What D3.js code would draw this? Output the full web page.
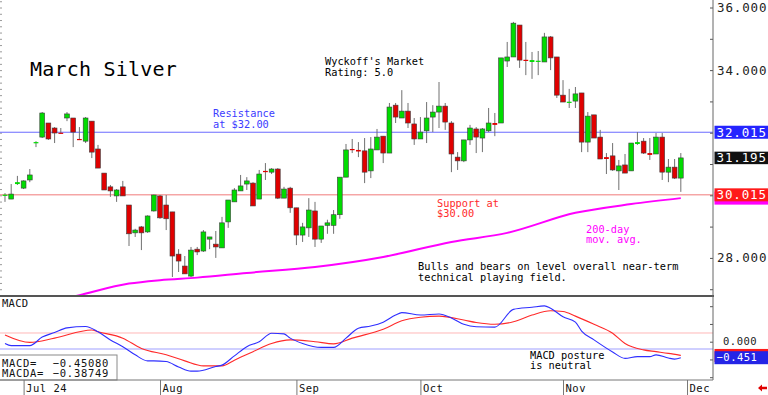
<!DOCTYPE html>
<html>
<head>
<meta charset="utf-8">
<script src="https://cdn.jsdelivr.net/npm/d3@7"></script>
<style>
  body { margin: 0; background: #fff; }
  svg  { display: block; font-family: "DejaVu Sans Mono", monospace; }
</style>
</head>
<body>
<svg id="chart" width="768" height="395"></svg>
<script>
// ── Data: March Silver daily bars (late Jun → late Nov 2024) ────────────────
const opens = [30.00,29.88,30.36,30.23,30.49,31.67,31.86,32.31,32.15,32.00,
  32.47,32.47,31.80,31.73,32.37,31.48,30.71,30.27,29.98,30.27,
  29.69,28.80,28.99,28.83,29.50,29.98,29.69,29.47,28.12,27.74,
  27.42,28.28,28.22,28.60,28.44,28.32,29.15,29.79,30.14,30.36,
  30.39,29.88,30.78,30.74,30.84,29.91,30.23,29.60,28.73,28.96,
  29.50,28.60,29.04,29.04,29.38,30.58,31.48,31.45,31.42,30.78,
  31.45,31.89,31.35,32.88,32.47,32.69,32.28,31.80,32.06,32.50,
  32.66,32.85,32.31,31.22,31.10,31.77,32.12,31.83,32.06,32.31,
  32.31,34.29,34.42,35.44,34.33,34.26,34.28,34.26,35.06,34.42,
  33.20,32.97,33.01,33.27,31.70,32.57,31.86,31.22,31.26,30.78,
  30.97,30.78,31.64,31.73,31.35,31.32,31.86,30.74,30.90,30.55];
const highs = [30.07,30.36,30.62,30.48,30.84,31.73,32.66,32.31,32.18,32.15,
  32.66,32.47,32.18,32.50,32.37,31.61,30.71,30.33,30.20,30.46,
  29.69,28.93,29.02,29.36,30.02,30.01,30.01,29.47,28.28,28.06,
  28.35,28.35,28.89,28.67,28.86,29.31,29.85,30.23,30.65,30.58,
  30.42,30.81,31.03,30.87,30.87,30.27,30.27,29.60,29.12,29.91,
  29.79,29.02,29.22,29.53,30.58,31.64,31.80,31.70,31.83,31.86,
  32.12,31.89,32.95,32.95,33.36,32.95,32.47,32.50,32.98,32.88,
  33.62,32.95,32.37,31.38,31.77,32.25,32.18,32.15,32.79,32.63,
  34.39,34.90,35.54,35.44,34.90,34.58,34.61,35.19,35.09,34.42,
  33.68,33.40,33.46,33.27,32.66,32.57,32.09,31.35,31.67,31.13,
  31.32,31.67,32.02,31.83,31.83,31.99,31.99,31.16,31.16,31.35];
const lows = [29.79,29.88,30.33,30.20,30.42,31.54,31.83,31.77,31.67,31.98,
  32.37,31.54,31.77,31.67,31.19,30.87,30.17,29.95,29.79,29.98,
  28.38,28.67,28.25,28.80,29.48,29.25,28.89,27.39,27.55,27.49,
  27.39,28.09,28.19,28.28,28.00,28.32,28.96,29.79,30.14,30.17,
  29.66,29.88,30.49,30.68,29.88,29.91,29.44,28.41,28.51,28.67,
  28.35,28.48,28.77,28.77,29.25,30.58,31.35,31.22,30.39,30.55,
  31.45,31.03,31.35,32.31,32.47,32.15,31.61,31.80,31.67,32.02,
  32.15,32.09,30.74,30.81,31.06,31.61,31.35,31.38,32.02,31.89,
  32.31,34.10,34.42,34.07,33.84,33.72,33.84,34.26,34.00,33.11,
  32.98,32.79,32.79,31.38,31.38,31.83,31.16,30.68,30.78,30.17,
  30.71,30.78,31.61,31.32,31.13,31.32,30.49,30.42,30.52,30.11];
const closes = [30.02,30.04,30.42,30.46,30.65,31.70,32.63,31.80,31.99,31.99,
  32.60,32.02,31.78,32.47,31.38,30.87,30.17,30.14,30.17,29.98,
  28.77,28.89,28.80,29.34,30.01,29.28,29.25,28.06,27.90,27.49,
  28.25,28.19,28.83,28.67,28.35,29.12,29.85,30.17,30.30,30.46,
  29.66,30.68,30.74,30.84,29.91,30.20,29.60,28.73,28.99,29.53,
  28.60,29.02,29.12,29.38,30.58,31.45,31.45,31.40,30.74,31.48,
  31.86,31.35,32.82,32.50,32.69,32.31,31.80,32.02,32.47,32.66,
  32.85,32.34,31.32,31.10,31.77,32.15,31.86,32.12,32.31,32.25,
  34.39,34.42,35.50,34.32,34.31,34.32,34.30,35.06,34.39,33.20,
  32.98,32.99,33.24,31.70,32.53,31.83,31.16,31.16,30.81,30.94,
  30.71,31.67,31.70,31.35,31.29,31.86,30.74,30.90,30.55,31.195];

// 200-day moving average (bar index, value)
const maIdx = [8, 12, 20, 25, 31, 39, 50, 61, 72, 81, 92, 101, 109];
const maVal = [26.62, 26.81, 27.18, 27.29, 27.37, 27.52, 27.71, 28.03, 28.51, 28.80, 29.44, 29.72, 29.91];

// MACD (blue) and its average MACDA (red)
const macdIdx = [0,1,4,6,8,10,13,15,17,19,21,23,24,26,28,30,31,34,35,37,39,41,43,45,46,48,51,53,55,57,59,61,63,64,67,70,72,74,76,79,82,85,87,88,90,92,93,95,98,100,102,104,105,107,108,109];
const macdVal = [-0.05,-0.11,-0.11,0.13,0.26,0.39,0.43,0.28,0.05,-0.14,-0.37,-0.54,-0.54,-0.56,-0.71,-0.83,-0.83,-0.70,-0.66,-0.40,-0.14,0.00,0.24,0.22,0.10,-0.05,-0.16,-0.16,0.10,0.38,0.44,0.55,0.75,0.82,0.75,0.78,0.67,0.49,0.42,0.41,0.91,0.97,1.01,0.94,0.70,0.55,0.30,0.05,-0.29,-0.47,-0.42,-0.42,-0.37,-0.46,-0.49,-0.4508];
const sigIdx = [0,4,8,14,15,19,22,26,29,32,35,37,40,43,46,50,53,56,61,64,67,70,74,76,79,82,85,88,90,92,95,98,100,103,105,107,109];
const sigVal = [0.19,-0.02,0.10,0.33,0.28,0.10,-0.19,-0.37,-0.54,-0.68,-0.68,-0.52,-0.28,-0.05,0.05,0.00,-0.06,0.10,0.35,0.59,0.69,0.72,0.61,0.54,0.49,0.56,0.75,0.87,0.85,0.72,0.49,0.24,-0.05,-0.23,-0.28,-0.33,-0.3875];
const macdBands = [0.245, -0.205];
const macdNow = -0.45080, macdaNow = -0.38749;

// Axes
const monthIdx = [3, 25, 47, 67, 90, 110];
const monthLbl = ["Jul 24", "Aug", "Sep", "Oct", "Nov", "Dec"];
const priceLbl = [28, 30, 32, 34, 36];
const priceTick = [27, 28, 29, 30, 31, 32, 33, 34, 35, 36];
const macdTick = [-1, -0.5, 0, 0.5, 1];
const resistance = 32.015, support = 30.015;

// ── Layout ──────────────────────────────────────────────────────────────────
const VW = 768, VH = 395;
const PX = 713;                 // plot right edge / price axis
const MAIN_B = 296;             // bottom of price panel
const MACD_T = 297, MACD_B = 380;

const svg = d3.select("#chart").attr("viewBox", `0 0 ${VW} ${VH}`);

const x  = d3.scaleLinear().domain([-0.806, 114.19]).range([0, PX]);
const y  = d3.scaleLinear().domain([26.783, 36.24]).range([MAIN_B, 0]);
const ym = d3.scaleLinear().domain([-1.079, 1.259]).range([MACD_B, MACD_T]);

const defs = svg.append("defs");
defs.append("clipPath").attr("id", "clipMain")
  .append("rect").attr("width", PX).attr("height", MAIN_B);

function label(g, px, py, txt, size, color, ls) {
  return g.append("text").attr("x", px).attr("y", py)
    .attr("font-size", size).attr("fill", color || "#000")
    .attr("letter-spacing", ls || 0).text(txt);
}

// ── Price panel ─────────────────────────────────────────────────────────────
const main = svg.append("g");

// left edge minor ticks
main.append("g").call(d3.axisRight(y).ticks(45).tickSize(2).tickFormat(""))
  .call(g => g.select(".domain").remove())
  .selectAll("line").attr("stroke", "#9a9a9a");

main.append("line").attr("x1", 0).attr("x2", PX)
  .attr("y1", y(resistance)).attr("y2", y(resistance))
  .attr("stroke", "#6a6aff").attr("stroke-width", 1);
main.append("line").attr("x1", 0).attr("x2", PX)
  .attr("y1", y(support)).attr("y2", y(support))
  .attr("stroke", "#f07a7a").attr("stroke-width", 1);

// 200-day MA
main.append("path")
  .datum(maIdx.map((d, i) => [d, maVal[i]]))
  .attr("clip-path", "url(#clipMain)")
  .attr("fill", "none").attr("stroke", "#ff00ff").attr("stroke-width", 2)
  .attr("d", d3.line().curve(d3.curveMonotoneX).x(d => x(d[0])).y(d => y(d[1])));

// candles
const bars = opens.map((o, i) => ({ i, o, h: highs[i], l: lows[i], c: closes[i] }));
const cg = main.append("g");
cg.selectAll("line.wick").data(bars).join("line").attr("class", "wick")
  .attr("x1", d => x(d.i)).attr("x2", d => x(d.i))
  .attr("y1", d => y(d.h)).attr("y2", d => y(d.l))
  .attr("stroke", "#707070").attr("stroke-width", 1);
cg.selectAll("rect").data(bars).join("rect")
  .attr("x", d => x(d.i) - 2.4).attr("width", 4.8)
  .attr("y", d => y(Math.max(d.o, d.c)))
  .attr("height", d => Math.max(1.2, Math.abs(y(d.o) - y(d.c))))
  .attr("fill", d => d.c >= d.o ? "#00dc00" : "#e00000")
  .attr("stroke", d => Math.abs(y(d.o) - y(d.c)) > 2 ? "#3c3c3c" : "none")
  .attr("stroke-width", 0.6);

// annotations
label(main, 30, 76, "March Silver", 20, "#000", 0.2);
label(main, 325, 65, "Wyckoff's Market", 10.3);
label(main, 325, 75.5, "Rating: 5.0", 10.3);
label(main, 213, 117, "Resistance", 10.3, "#3c3cff");
label(main, 213, 127.5, "at $32.00", 10.3, "#3c3cff");
label(main, 437, 206.5, "Support at", 10.3, "#ff2a2a");
label(main, 437, 217, "$30.00", 10.3, "#ff2a2a");
label(main, 586, 232.5, "200-day", 10.3, "#ff00ff");
label(main, 586, 243, "mov. avg.", 10.3, "#ff00ff");
label(main, 418, 270, "Bulls and bears on level overall near-term", 10.3);
label(main, 418, 280.5, "technical playing field.", 10.3);

// price axis
svg.append("g").attr("transform", `translate(${PX},0)`)
  .call(d3.axisLeft(y).tickValues(priceTick).tickSize(3).tickSizeOuter(0).tickFormat(""))
  .call(g => g.select(".domain").remove())
  .selectAll("line").attr("stroke", "#555");
svg.append("g").attr("transform", `translate(${PX},0)`)
  .call(d3.axisRight(y).tickValues(priceLbl).tickSize(0).tickPadding(4).tickFormat(d3.format(".3f")))
  .call(g => g.select(".domain").remove())
  .selectAll("text").attr("font-family", "DejaVu Sans Mono").attr("font-size", 12.5)
  .attr("letter-spacing", 0.85).attr("fill", "#222");

function valueBox(v, scale, fill, txt, h, size, ls) {
  const cy = scale(v);
  svg.append("rect").attr("x", PX + 1.5).attr("y", cy - h / 2)
    .attr("width", VW - PX - 1.5).attr("height", h).attr("fill", fill);
  if (txt) label(svg, PX + 3.5, cy + size * 0.36, txt, size, "#fff", ls);
}
valueBox(maVal[maVal.length - 1], y, "#ff00ff", null, 13, 12.5);
valueBox(support, y, "#ff1a1a", d3.format(".3f")(support), 13, 12.5, 0.85);
valueBox(closes[closes.length - 1], y, "#111", d3.format(".3f")(closes[closes.length - 1]), 12.5, 12.5, 0.85);
valueBox(resistance, y, "#2424ff", d3.format(".3f")(resistance), 13, 12.5, 0.85);

// ── MACD panel ──────────────────────────────────────────────────────────────
const mg = svg.append("g");
mg.append("line").attr("x1", 0).attr("x2", PX)
  .attr("y1", ym(macdBands[0])).attr("y2", ym(macdBands[0]))
  .attr("stroke", "#ffb8b8").attr("stroke-width", 1);
mg.append("line").attr("x1", 0).attr("x2", PX)
  .attr("y1", ym(macdBands[1])).attr("y2", ym(macdBands[1]))
  .attr("stroke", "#cfcfff").attr("stroke-width", 2);

const mline = d3.line().curve(d3.curveMonotoneX).x(d => x(d[0])).y(d => ym(d[1]));
mg.append("path").datum(sigIdx.map((d, i) => [d, sigVal[i]]))
  .attr("fill", "none").attr("stroke", "#ff2a2a").attr("stroke-width", 1.1).attr("d", mline);
mg.append("path").datum(macdIdx.map((d, i) => [d, macdVal[i]]))
  .attr("fill", "none").attr("stroke", "#2f2fff").attr("stroke-width", 1.1).attr("d", mline);

label(mg, 2, 307, "MACD", 10.5, "#111", 0.3);
label(mg, 530, 358.5, "MACD posture", 10.3);
label(mg, 530, 369, "is neutral", 10.3);

// readout box
mg.append("rect").attr("x", -1).attr("y", 355).attr("width", 118).attr("height", MACD_B - 355)
  .attr("fill", "#fff").attr("stroke", "#8a8a8a");
label(mg, 2, 366.5, "MACD=", 10.5, "#111", 0.7);
label(mg, 2, 377, "MACDA=", 10.5, "#111", 0.7);
label(mg, 109, 366.5, d3.format(".5f")(macdNow), 10.5, "#111", 0.7).attr("text-anchor", "end");
label(mg, 109, 377, d3.format(".5f")(macdaNow), 10.5, "#111", 0.7).attr("text-anchor", "end");

// MACD axis
svg.append("g").attr("transform", `translate(${PX},0)`)
  .call(d3.axisLeft(ym).tickValues(macdTick).tickSize(3).tickFormat(""))
  .call(g => g.select(".domain").remove())
  .selectAll("line").attr("stroke", "#555");
label(svg, 723, ym(0) + 3.8, d3.format(".3f")(0), 10.5, "#222", 0.5);
valueBox(macdaNow, ym, "#ff1a1a", null, 13, 10.5);
valueBox(macdNow, ym, "#2424e6", d3.format(".3f")(macdNow), 13, 10.5, 0.5);

// ── Frame lines ─────────────────────────────────────────────────────────────
svg.append("line").attr("x1", 0).attr("x2", PX + 1).attr("y1", MAIN_B).attr("y2", MAIN_B)
  .attr("stroke", "#555").attr("stroke-width", 2);
svg.append("line").attr("x1", PX).attr("x2", PX).attr("y1", 0).attr("y2", MACD_B)
  .attr("stroke", "#666").attr("stroke-width", 1);
svg.append("line").attr("x1", 0).attr("x2", PX).attr("y1", MACD_B).attr("y2", MACD_B)
  .attr("stroke", "#777").attr("stroke-width", 1);

// ── Time axis ───────────────────────────────────────────────────────────────
const xa = svg.append("g").attr("transform", `translate(0,${MACD_B})`)
  .call(d3.axisBottom(x).tickValues(monthIdx).tickSize(15).tickSizeOuter(0)
    .tickFormat((d, i) => monthLbl[i]));
xa.select(".domain").remove();
xa.selectAll("line").attr("stroke", "#777");
xa.selectAll("text").attr("font-family", "DejaVu Sans Mono").attr("font-size", 10.5)
  .attr("letter-spacing", 0.5).attr("fill", "#111")
  .attr("text-anchor", "start").attr("x", 2).attr("y", 8.5).attr("dy", "0.35em");

// little red scroll arrow
svg.append("path").attr("d", "M758,388 L762,384.5 L762,386.8 L767,386.8 L767,389.2 L762,389.2 L762,391.5 Z")
  .attr("fill", "#e00000");
</script>
</body>
</html>
